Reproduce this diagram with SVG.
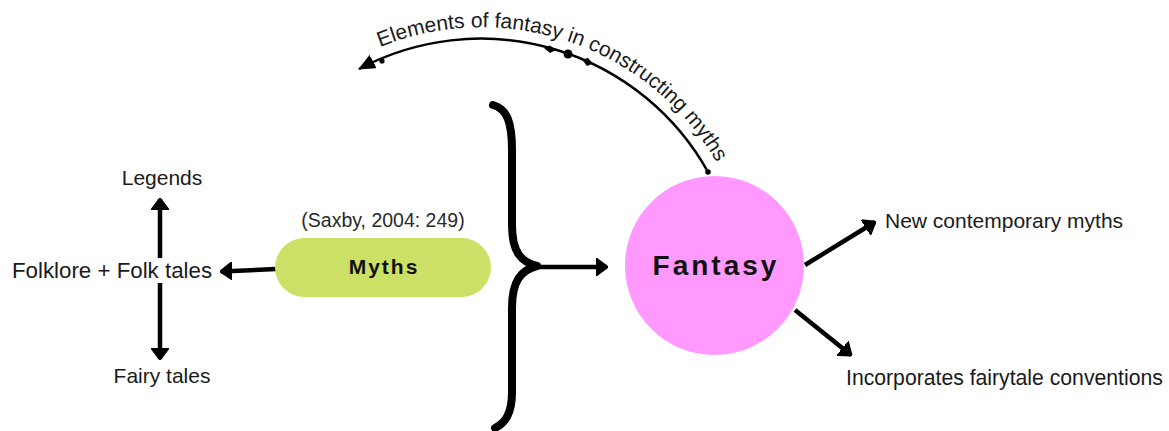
<svg xmlns="http://www.w3.org/2000/svg" width="1169" height="431" viewBox="0 0 1169 431">
  <style>
    .lbl { font-family: "Liberation Sans", Arial, sans-serif; font-size: 21px; fill: #1a1a1a; }
    .cite { font-family: "Liberation Sans", Arial, sans-serif; font-size: 19.5px; fill: #2a2a2a; }
    .title { font-family: "Liberation Sans", Arial, sans-serif; font-weight: bold; fill: #111; }
    .conn { fill: none; stroke: #000; stroke-width: 4.5; }
    .thin { fill: none; stroke: #000; stroke-width: 2.5; }
  </style>
  <defs>
    <marker id="head" viewBox="0 0 12 18" refX="11" refY="9" markerWidth="12" markerHeight="18" markerUnits="userSpaceOnUse" orient="auto">
      <path d="M0,0 L12,9 L0,18 Z" fill="#000" stroke="#000" stroke-width="1.5" stroke-linejoin="round"/>
    </marker>
    <marker id="headSmall" viewBox="0 0 17 15" refX="16" refY="7.5" markerWidth="17" markerHeight="15" markerUnits="userSpaceOnUse" orient="auto">
      <path d="M0,0 L17,7.5 L0,15 Z" fill="#000"/>
    </marker>
    <path id="arcText" d="M 380,47 A 272 272 0 0 1 717,163"/>
  </defs>

  <!-- connectors -->
  <g id="connectors">
    <!-- brace gathering toward Fantasy -->
    <path d="M 493,105 C 507,109 512,122 512,150 L 512,225 C 512,252 521,262 537,266 C 521,270 512,281 512,308 L 512,392 C 512,414 505,423 495,428" fill="none" stroke="#000" stroke-width="8" stroke-linecap="round" stroke-linejoin="round"/>
    <line class="conn" x1="537" y1="267" x2="607" y2="267" marker-end="url(#head)"/>
    <!-- Myths to Folklore -->
    <line class="conn" x1="276" y1="269" x2="221" y2="271.5" marker-end="url(#head)"/>
    <!-- Folklore up / down -->
    <line class="conn" x1="160" y1="258" x2="160" y2="199" marker-end="url(#head)"/>
    <line class="conn" x1="160" y1="283" x2="160" y2="359" marker-end="url(#head)"/>
    <!-- Fantasy outward -->
    <line class="conn" x1="805" y1="265" x2="875" y2="222" marker-end="url(#head)"/>
    <line class="conn" x1="795" y1="310" x2="851" y2="355" marker-end="url(#head)"/>
    <!-- curved link over the top -->
    <path class="thin" d="M 708,172 A 260 260 0 0 0 359,69" marker-end="url(#headSmall)"/>
    <circle cx="708" cy="172" r="2.8" fill="#000"/>
    <circle cx="382" cy="61" r="2.6" fill="#000"/>
    <path d="M 544,48 L 550,45.5 L 556,50 L 550,53 Z" fill="#000"/>
    <circle cx="568" cy="54" r="4.5" fill="#000"/>
    <path d="M 582,59.5 L 588,58 L 593,63.5 L 587,66 Z" fill="#000"/>
    <text class="lbl"><textPath href="#arcText">Elements of fantasy in constructing myths</textPath></text>
  </g>

  <!-- nodes -->
  <g id="node-myths">
    <rect x="275" y="238" width="216" height="59" rx="29.5" fill="#cde066"/>
    <text class="title" x="384" y="274" font-size="21" letter-spacing="2" text-anchor="middle">Myths</text>
  </g>
  <g id="node-citation">
    <text class="cite" x="383" y="227" text-anchor="middle">(Saxby, 2004: 249)</text>
  </g>
  <g id="node-fantasy">
    <circle cx="714.5" cy="265.5" r="89.5" fill="#ff99ff"/>
    <text class="title" x="716" y="275" font-size="28" letter-spacing="3" text-anchor="middle">Fantasy</text>
  </g>
  <g id="node-folklore">
    <text class="lbl" x="112" y="278" font-size="22" text-anchor="middle" style="font-size:22.3px">Folklore + Folk tales</text>
  </g>
  <g id="node-legends">
    <text class="lbl" x="162" y="185" text-anchor="middle">Legends</text>
  </g>
  <g id="node-fairy">
    <text class="lbl" x="162" y="383" text-anchor="middle">Fairy tales</text>
  </g>
  <g id="node-new">
    <text class="lbl" x="885" y="228">New contemporary myths</text>
  </g>
  <g id="node-incorporates">
    <text class="lbl" x="846" y="385" style="font-size:21.2px">Incorporates fairytale conventions</text>
  </g>
</svg>
